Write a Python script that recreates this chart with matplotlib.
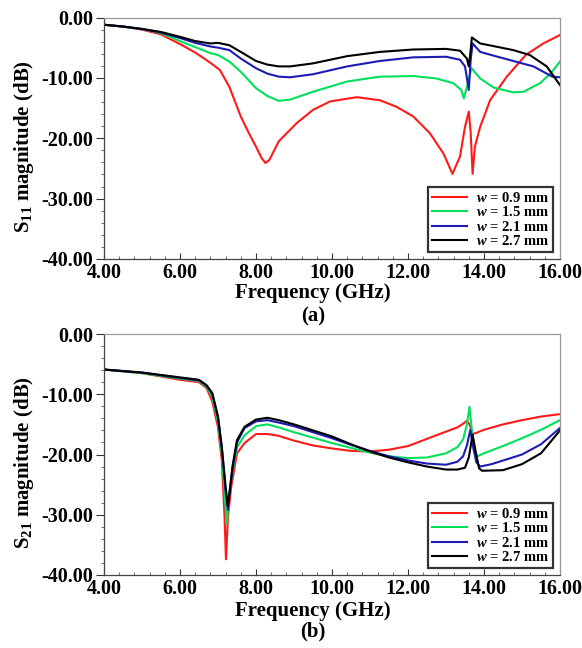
import matplotlib
matplotlib.use("Agg")
import matplotlib.pyplot as plt
from matplotlib.ticker import MultipleLocator, FormatStrFormatter

plt.rcParams['font.family'] = ['Liberation Serif', 'DejaVu Serif']
plt.rcParams['font.weight'] = 'bold'
plt.rcParams['mathtext.fontset'] = 'custom'
plt.rcParams['mathtext.rm'] = 'Liberation Serif:bold'
plt.rcParams['mathtext.it'] = 'Liberation Serif:bold:italic'
plt.rcParams['mathtext.bf'] = 'Liberation Serif:bold'

labels = [r"$\mathit{w}$ = 0.9 mm", r"$\mathit{w}$ = 1.5 mm",
          r"$\mathit{w}$ = 2.1 mm", r"$\mathit{w}$ = 2.7 mm"]
colors = ['#ff1a1a', '#00e05a', '#1c1cb4', '#000000']

# ---- (a) S11 ----
s11_red_f = [4.0, 4.5, 5.0, 5.5, 6.0, 6.4, 6.8, 7.05, 7.3, 7.6, 7.8, 8.0, 8.15, 8.25, 8.35,
             8.6, 9.07, 9.5, 9.95, 10.65, 11.26, 11.7, 12.14, 12.58, 12.93, 13.17, 13.37,
             13.5, 13.6, 13.65, 13.7, 13.76, 13.9, 14.16, 14.6, 15.1, 15.56, 16.0]
s11_red = [-1.2, -1.5, -2.0, -2.8, -4.4, -5.8, -7.5, -8.7, -11.5, -16.4, -19.0, -21.4, -23.3,
           -24.1, -23.6, -20.5, -17.5, -15.3, -13.9, -13.2, -13.7, -14.8, -16.4, -19.2, -22.5,
           -25.9, -23.0, -18.1, -15.6, -19.1, -25.9, -21.4, -18.1, -13.7, -9.8, -6.2, -4.3, -2.9]

s11_green_f = [4.0, 4.5, 5.0, 5.5, 6.0, 6.4, 6.8, 7.0, 7.3, 7.6, 8.0, 8.3, 8.6, 8.9, 9.5,
               10.4, 11.26, 12.14, 12.75, 13.2, 13.4, 13.47, 13.55, 13.67, 13.9, 14.25, 14.77,
               15.04, 15.47, 15.75, 16.0]
s11_green = [-1.2, -1.5, -1.9, -2.6, -3.9, -4.9, -5.9, -6.2, -7.3, -9.0, -11.7, -13.0, -13.8,
             -13.6, -12.3, -10.6, -9.8, -9.7, -10.1, -10.9, -12.0, -13.4, -11.5, -8.4, -10.1,
             -11.6, -12.4, -12.3, -10.9, -9.3, -7.3]

s11_blue_f = [4.0, 4.5, 5.0, 5.5, 6.0, 6.4, 6.8, 7.0, 7.3, 7.6, 8.0, 8.3, 8.6, 8.9, 9.5,
              10.4, 11.26, 12.14, 13.0, 13.37, 13.5, 13.6, 13.65, 13.7, 13.9, 14.3, 14.77,
              15.3, 15.8, 16.0]
s11_blue = [-1.2, -1.5, -1.9, -2.5, -3.4, -4.2, -4.8, -5.0, -5.4, -6.8, -8.4, -9.3, -9.8,
            -9.9, -9.4, -8.1, -7.2, -6.6, -6.5, -7.0, -8.1, -12.0, -7.0, -4.3, -5.7, -6.4,
            -7.2, -8.1, -9.8, -9.9]

s11_black_f = [4.0, 4.5, 5.0, 5.5, 6.0, 6.4, 6.8, 7.0, 7.3, 7.6, 8.0, 8.3, 8.6, 8.9, 9.5,
               10.4, 11.26, 12.14, 13.0, 13.37, 13.55, 13.6, 13.65, 13.68, 13.9, 14.3, 14.77,
               15.2, 15.65, 16.0]
s11_black = [-1.2, -1.5, -1.9, -2.4, -3.2, -3.9, -4.3, -4.2, -4.6, -5.7, -7.2, -7.8, -8.1,
             -8.1, -7.6, -6.4, -5.7, -5.3, -5.2, -5.5, -6.8, -8.1, -5.4, -3.3, -4.3, -4.8,
             -5.4, -6.2, -8.1, -11.2]

# ---- (b) S21 ----
s21_red_f = [4.0, 5.0, 6.0, 6.5, 6.7, 6.85, 7.0, 7.1, 7.17, 7.21, 7.26, 7.35, 7.5, 7.7, 8.0,
             8.3, 8.6, 9.0, 9.5, 10.0, 10.5, 11.0, 11.5, 12.0, 12.5, 13.0, 13.3, 13.45,
             13.55, 13.62, 13.7, 13.8, 14.0, 14.5, 15.0, 15.5, 16.0]
s21_red = [-5.9, -6.5, -7.6, -8.0, -9.0, -11.2, -15.5, -20.9, -30.0, -37.4, -30.5, -25.3,
           -19.8, -18.1, -16.6, -16.6, -16.9, -17.7, -18.5, -19.0, -19.4, -19.5, -19.2,
           -18.6, -17.4, -16.2, -15.5, -14.9, -14.4, -15.0, -16.6, -16.4, -15.9, -15.0,
           -14.3, -13.7, -13.3]

s21_green_f = [4.0, 5.0, 6.0, 6.5, 6.7, 6.85, 7.0, 7.1, 7.18, 7.23, 7.28, 7.35, 7.5, 7.7,
               8.0, 8.3, 8.6, 9.0, 9.5, 10.0, 10.5, 11.0, 11.5, 12.0, 12.5, 13.0, 13.3,
               13.45, 13.55, 13.62, 13.68, 13.75, 13.82, 14.0, 14.5, 15.0, 15.5, 16.0]
s21_green = [-5.9, -6.5, -7.4, -7.8, -8.8, -10.5, -14.6, -19.8, -27.0, -31.5, -27.5, -24.0,
             -18.8, -16.8, -15.3, -15.0, -15.5, -16.3, -17.2, -18.1, -18.9, -19.7, -20.3,
             -20.6, -20.5, -19.8, -18.8, -17.5, -15.0, -12.1, -16.0, -19.5, -20.3, -19.8,
             -18.6, -17.3, -15.9, -14.3]

s21_blue_f = [4.0, 5.0, 6.0, 6.5, 6.7, 6.85, 7.0, 7.1, 7.2, 7.26, 7.3, 7.38, 7.5, 7.7, 8.0,
              8.3, 8.6, 9.0, 9.5, 10.0, 10.5, 11.0, 11.5, 12.0, 12.5, 13.0, 13.3, 13.45,
              13.55, 13.64, 13.72, 13.8, 13.9, 14.2, 14.5, 15.0, 15.5, 16.0]
s21_blue = [-5.9, -6.4, -7.3, -7.7, -8.6, -10.0, -13.9, -18.9, -26.0, -29.2, -26.5, -22.5,
            -18.0, -15.6, -14.5, -14.3, -14.7, -15.3, -16.3, -17.3, -18.4, -19.4, -20.3,
            -21.0, -21.5, -21.7, -21.2, -20.3, -18.5, -15.9, -19.0, -21.3, -22.0, -21.6,
            -21.0, -20.0, -18.3, -15.6]

s21_black_f = [4.0, 5.0, 6.0, 6.5, 6.7, 6.85, 7.0, 7.1, 7.2, 7.26, 7.31, 7.38, 7.5, 7.7,
               8.0, 8.3, 8.6, 9.0, 9.5, 10.0, 10.5, 11.0, 11.5, 12.0, 12.5, 13.0, 13.3,
               13.5, 13.6, 13.7, 13.78, 13.87, 13.95, 14.5, 15.0, 15.5, 16.0]
s21_black = [-5.9, -6.4, -7.2, -7.6, -8.5, -9.8, -13.7, -18.7, -25.3, -28.6, -26.0, -22.0,
             -17.6, -15.4, -14.2, -13.9, -14.3, -15.0, -16.0, -17.0, -18.3, -19.5, -20.5,
             -21.3, -22.0, -22.5, -22.5, -22.2, -20.5, -16.7, -19.5, -22.3, -22.7, -22.6,
             -21.6, -19.8, -16.0]

xticks = [4, 6, 8, 10, 12, 14, 16]
yticks = [0, -10, -20, -30, -40]

W, H = 582, 648
fig = plt.figure(figsize=(W / 100, H / 100), dpi=100)

def make_axes(top_px, bot_px):
    l, r = 104, 560
    return fig.add_axes([l / W, 1 - bot_px / H, (r - l) / W, (bot_px - top_px) / H])

ax1 = make_axes(17.5, 259)
ax2 = make_axes(334, 575)

panels = [
    (ax1, [(s11_red_f, s11_red), (s11_green_f, s11_green), (s11_blue_f, s11_blue),
           (s11_black_f, s11_black)], r"S$_{11}$ magnitude (dB)", "(a)", 293, 316, 147),
    (ax2, [(s21_red_f, s21_red), (s21_green_f, s21_green), (s21_blue_f, s21_blue),
           (s21_black_f, s21_black)], r"S$_{21}$ magnitude (dB)", "(b)", 611, 631, 463),
]

for ax, series, ylab, tag, xl_y, tag_y, yl_y in panels:
    for (f, v), c, lab in zip(series, colors, labels):
        ax.plot(f, v, color=c, lw=1.5, label=lab, solid_joinstyle='round')
    ax.set_xlim(4, 16)
    ax.set_ylim(-40, 0)
    ax.set_xticks(xticks)
    ax.set_yticks(yticks)
    ax.xaxis.set_major_formatter(FormatStrFormatter('%.2f'))
    ax.yaxis.set_major_formatter(FormatStrFormatter('%.2f'))
    ax.xaxis.set_minor_locator(MultipleLocator(0.4))
    ax.yaxis.set_minor_locator(MultipleLocator(2))
    ax.tick_params(axis='y', which='major', direction='out', length=6, width=0.8,
                   labelsize=14.5, pad=2, colors='#333333', labelcolor='black')
    ax.tick_params(axis='y', which='minor', direction='out', length=2, width=0.6,
                   colors='#555555')
    ax.tick_params(axis='x', which='major', direction='in', length=4, width=0.8,
                   labelsize=14.5, pad=3, colors='#333333', labelcolor='black')
    ax.tick_params(axis='x', which='minor', direction='in', length=2, width=0.6,
                   colors='#555555')
    for s in ('left', 'bottom'):
        ax.spines[s].set_color('#444444')
        ax.spines[s].set_linewidth(0.9)
    for s in ('top', 'right'):
        ax.spines[s].set_color('#9a9a9a')
        ax.spines[s].set_linewidth(0.9)
    for lbl in ax.get_xticklabels() + ax.get_yticklabels():
        lbl.set_fontweight('bold')
    leg = ax.legend(loc='lower right', bbox_to_anchor=(1.0, 0.0), borderaxespad=0.45,
                    fontsize=10.5, frameon=True, fancybox=False, handlelength=2.4,
                    handletextpad=0.6, labelspacing=0.02, borderpad=0.3)
    leg.get_frame().set_edgecolor('black')
    leg.get_frame().set_linewidth(1.6)
    for t in leg.get_texts():
        t.set_fontweight('bold')
    fig.text(313 / W, 1 - xl_y / H, "Frequency (GHz)", ha='center', va='center',
             fontsize=15, fontweight='bold')
    fig.text(313 / W, 1 - tag_y / H, tag, ha='center', va='center',
             fontsize=15, fontweight='bold')
    fig.text(24 / W, 1 - yl_y / H, ylab, ha='center', va='center', rotation=90,
             fontsize=15, fontweight='bold')

fig.savefig("out.png", dpi=100)
